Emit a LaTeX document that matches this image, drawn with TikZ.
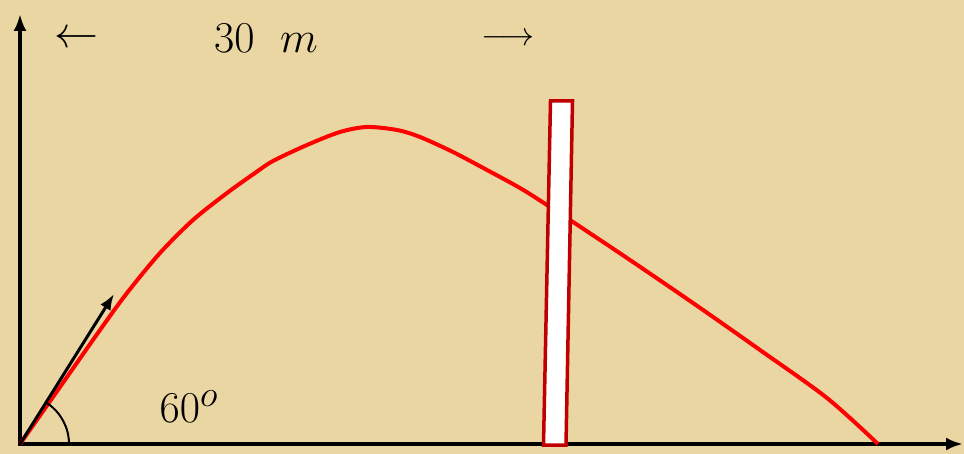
\documentclass[tikz,border=0pt]{standalone}
\usetikzlibrary{arrows.meta}

\definecolor{papyrus}{RGB}{234,214,162}
\definecolor{poleRed}{RGB}{192,0,0}

\tikzset{
	axis/.style={line width=4pt,-{Latex[length=17pt,width=13pt]}},
	bigtext/.style={font=\Huge, scale=1.77, transform shape, inner sep=0pt}
}

\begin{document}
\begin{tikzpicture}[x=1pt,y=-1pt]
\fill[papyrus] (0,0) rectangle (964,454);
\useasboundingbox (0,0) rectangle (964,454);

\coordinate (O) at (20,444);
\coordinate (xend) at (963,444);
\coordinate (yend) at (20,14);
\coordinate (vtip) at (114,294);

\draw[axis] ([xshift=-2pt]O) -- (xend);
\draw[axis] ([yshift=2pt]O) -- (yend);

% flight path
\draw[red, line width=4pt, smooth, tension=0.5] plot coordinates {(20,444) (60,387) (100,330) (127,293) (160,253) (193,220) (227,193) (255,173) (273,161) (307,145) (340,132) (367,127) (397,130) (420,137) (453,152) (487,170) (520,188) (547,205) (573,222) (627,258) (693,303) (760,350) (827,398) (878,444)};

% launch velocity and angle
\draw[line width=3pt, -{Latex[length=16pt,width=12pt]}] (O) -- (vtip);
\draw[line width=2pt] ([xshift=49pt]O) arc[start angle=0, end angle=56, radius=49pt];

% the pole
\draw[poleRed, line width=3.5pt, fill=white] (550.5,101) -- (572.5,101) -- (566,445) -- (543.5,445) -- cycle;

\node[bigtext] (dist) at (266,38) {$30\ \;m$};
\node[bigtext] (larr) at (77,39) {$\leftarrow$};
\node[bigtext, scale=0.75] (rarr) at (508,39) {$\longrightarrow$};
\node[bigtext] (ang) at (189,407) {$60^{o}$};
\end{tikzpicture}
\end{document}
